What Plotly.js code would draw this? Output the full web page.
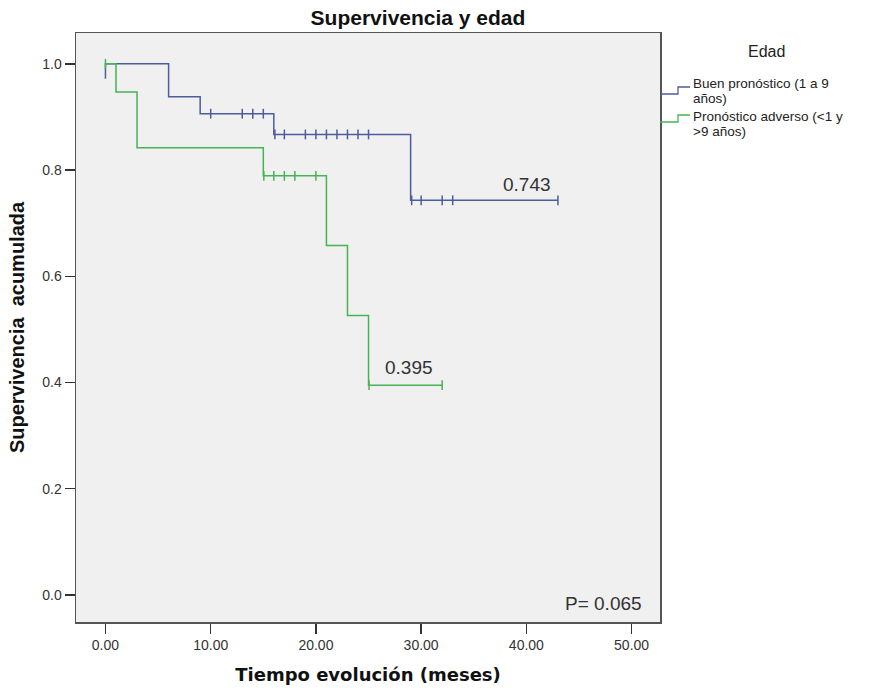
<!DOCTYPE html>
<html>
<head>
<meta charset="utf-8">
<script src="https://cdn.plot.ly/plotly-3.0.1.min.js"></script>
<style>html,body{margin:0;padding:0;background:#fff;}#chart{width:871px;height:692px;}</style>
</head>
<body>
<div id="chart"></div>
<script>
// ---- Data ----
const seriesNames = ["Buen pronóstico (1 a 9 años)", "Pronóstico adverso (<1 y >9 años)"];
// Kaplan-Meier step points: time (months) and cumulative survival
const blueTimes = [0, 0, 6, 9, 16, 29, 43];
const blueSurv  = [0.972, 1.0, 0.938, 0.906, 0.867, 0.743, 0.743];
const blueCensored = [10, 13, 14, 15, 16.1, 17, 19, 20, 21, 22, 23, 24, 25, 29.1, 30, 32, 33, 43];

const greenTimes = [0, 1, 3, 15, 21, 23, 25, 32];
const greenSurv  = [1.0, 0.947, 0.842, 0.789, 0.658, 0.526, 0.395, 0.395];
const greenCensored = [0, 15.05, 16, 17, 18, 20, 25.05, 32];

const finalLabels = ["0.743", "0.395"];
const finalLabelPos = [[40.1, 0.772], [28.8, 0.429]];
const pValueText = "P= 0.065";
const xTickVals = [0, 10, 20, 30, 40, 50];
const yTickVals = [0, 0.2, 0.4, 0.6, 0.8, 1.0];

// ---- helpers ----
function survAt(times, surv, t) {
  let v = surv[0];
  for (let i = 0; i < times.length; i++) { if (t >= times[i]) v = surv[i]; }
  return v;
}
const BLUE = '#4d5c9c';
const GREEN = '#45b454';
const FONT = 'Liberation Sans, Arial, sans-serif';

const traces = [
  {x: blueTimes, y: blueSurv, mode: 'lines', line: {shape: 'hv', color: BLUE, width: 1.5}, name: seriesNames[0], showlegend: false, hoverinfo: 'skip'},
  {x: greenTimes, y: greenSurv, mode: 'lines', line: {shape: 'hv', color: GREEN, width: 1.5}, name: seriesNames[1], showlegend: false, hoverinfo: 'skip'},
  {x: blueCensored, y: blueCensored.map(t => survAt(blueTimes, blueSurv, t)), mode: 'markers',
   marker: {symbol: 'line-ns', size: 7, line: {color: BLUE, width: 1.5}}, showlegend: false, hoverinfo: 'skip'},
  {x: greenCensored, y: greenCensored.map(t => survAt(greenTimes, greenSurv, t)), mode: 'markers',
   marker: {symbol: 'line-ns', size: 7, line: {color: GREEN, width: 1.5}}, showlegend: false, hoverinfo: 'skip'}
];

// plot area in pixels: x 76..660, y 33..622
const PL = 76, PR = 660, PT = 33, PB = 622;
const px = v => (v - PL) / (PR - PL);
const py = v => (PB - v) / (PB - PT);

const shapes = [
  {type: 'path', xref: 'paper', yref: 'paper',
   path: `M ${px(660)},${py(94)} H ${px(678)} V ${py(87)} H ${px(690)}`, line: {color: BLUE, width: 1.3}},
  {type: 'path', xref: 'paper', yref: 'paper',
   path: `M ${px(660)},${py(122)} H ${px(678)} V ${py(115)} H ${px(690)}`, line: {color: GREEN, width: 1.3}}
];

const legendLines = ["Buen pronóstico (1 a 9", "años)", "Pronóstico adverso (<1 y", ">9 años)"];
const legendY = [83, 98, 116, 131];

const annotations = [
  {text: finalLabels[0], x: finalLabelPos[0][0], y: finalLabelPos[0][1], xref: 'x', yref: 'y', showarrow: false,
   font: {family: FONT, size: 19, color: '#333'}},
  {text: finalLabels[1], x: finalLabelPos[1][0], y: finalLabelPos[1][1], xref: 'x', yref: 'y', showarrow: false,
   font: {family: FONT, size: 19, color: '#333'}},
  {text: pValueText, x: px(644), y: py(603), xref: 'paper', yref: 'paper', xanchor: 'right', yanchor: 'middle', showarrow: false,
   font: {family: FONT, size: 19, color: '#333'}},
  {text: 'Edad', x: px(767), y: py(52), xref: 'paper', yref: 'paper', xanchor: 'center', yanchor: 'middle', showarrow: false,
   font: {family: FONT, size: 16, color: '#222'}}
];
legendLines.forEach((t, i) => annotations.push({
  text: t, x: px(691), y: py(legendY[i]), xref: 'paper', yref: 'paper', xanchor: 'left', yanchor: 'middle',
  showarrow: false, font: {family: FONT, size: 13.5, color: '#222'}
}));

const layout = {
  width: 871, height: 692,
  margin: {l: PL, r: 871 - PR, t: PT, b: 692 - PB, pad: 0},
  paper_bgcolor: '#ffffff', plot_bgcolor: '#f0f0f0',
  showlegend: false,
  title: {text: '<b>Supervivencia y edad</b>', x: 418 / 871, xanchor: 'center', y: 1 - 18 / 692, yanchor: 'middle',
          font: {family: FONT, size: 21, color: '#111'}},
  xaxis: {
    range: [-2.8, 52.7], tickvals: xTickVals, tickformat: '.2f', ticks: 'outside', ticklen: 10, tickwidth: 1.5, tickcolor: '#333',
    showgrid: false, zeroline: false, showline: true, linecolor: '#555', linewidth: 1.5, mirror: true,
    tickfont: {family: FONT, size: 14, color: '#333'},
    title: {text: '<b>Tiempo evolución (meses)</b>', standoff: 16, font: {family: 'DejaVu Sans, sans-serif', size: 18, color: '#111'}}
  },
  yaxis: {
    range: [-0.051, 1.058], tickvals: yTickVals, tickformat: '.1f', ticks: 'outside', ticklen: 10, tickwidth: 1.5, tickcolor: '#333',
    showgrid: false, zeroline: false, showline: true, linecolor: '#555', linewidth: 1.5, mirror: true,
    tickfont: {family: FONT, size: 14, color: '#333'},
    title: {text: '<b>Supervivencia  acumulada</b>', standoff: 12, font: {family: FONT, size: 20, color: '#111'}}
  },
  shapes: shapes,
  annotations: annotations
};

Plotly.newPlot('chart', traces, layout, {staticPlot: true});
</script>
</body>
</html>
